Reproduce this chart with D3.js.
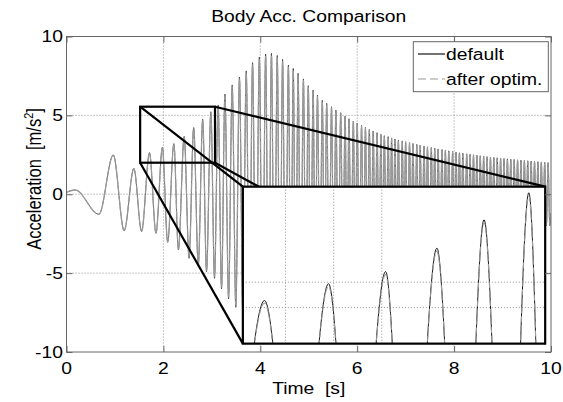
<!DOCTYPE html>
<html>
<head>
<meta charset="utf-8">
<script src="https://cdn.jsdelivr.net/npm/d3@7"></script>
<style>
  body { margin: 0; background: #fff; }
  svg { display: block; font-family: "Liberation Sans", Arial, Helvetica, sans-serif; }
</style>
</head>
<body>
<svg id="chart" width="563" height="402"></svg>
<script>
// ---- data (time in s, acceleration in m/s^2) ----
const startPoint = [0, 0.12];
const endPoint = [10, -1.2];

// local maxima of the signal
const peakT = [
  0.18, 0.966, 1.39, 1.713, 1.979, 2.216, 2.429, 2.625, 2.811, 2.98,
  3.13, 3.27, 3.42, 3.57, 3.71, 3.84, 3.98, 4.11, 4.23, 4.35,
  4.46, 4.58, 4.68, 4.78, 4.89, 4.99, 5.09, 5.18, 5.28, 5.37,
  5.47, 5.56, 5.66, 5.75, 5.83, 5.92, 6.00, 6.09, 6.17, 6.25,
  6.33, 6.41, 6.49, 6.56, 6.64, 6.71, 6.78, 6.85, 6.93, 7.00,
  7.08, 7.15, 7.23, 7.30, 7.38, 7.45, 7.53, 7.60, 7.67, 7.75,
  7.82, 7.89, 7.97, 8.04, 8.11, 8.18, 8.26, 8.33, 8.40, 8.47,
  8.54, 8.61, 8.68, 8.75, 8.82, 8.89, 8.96, 9.03, 9.10, 9.17,
  9.24, 9.31, 9.38, 9.45, 9.52, 9.59, 9.66, 9.73, 9.80, 9.87, 9.94
];
const peakY = [
  0.27, 2.49, 1.64, 2.64, 2.97, 3.21, 3.67, 4.23, 4.76, 5.23,
  5.66, 6.35, 6.93, 7.43, 7.82, 8.34, 8.70, 8.89, 8.93, 8.80,
  8.55, 8.19, 7.98, 7.67, 7.31, 6.88, 6.61, 6.29, 5.97, 5.77,
  5.55, 5.34, 5.17, 4.96, 4.79, 4.64, 4.50, 4.37, 4.24, 4.11,
  4.01, 3.90, 3.80, 3.71, 3.65, 3.57, 3.50, 3.44, 3.38, 3.33,
  3.27, 3.22, 3.16, 3.11, 3.06, 3.01, 2.96, 2.92, 2.87, 2.83,
  2.79, 2.75, 2.71, 2.67, 2.63, 2.60, 2.56, 2.53, 2.50, 2.47,
  2.44, 2.41, 2.38, 2.36, 2.33, 2.31, 2.28, 2.26, 2.24, 2.22,
  2.20, 2.18, 2.16, 2.14, 2.12, 2.10, 2.08, 2.06, 2.04, 2.02, 2.00
];
const optPeakY = [
  0.27, 2.48, 1.62, 2.59, 2.92, 3.15, 3.61, 4.17, 4.69, 5.15,
  5.57, 6.25, 6.82, 7.31, 7.70, 8.21, 8.57, 8.76, 8.80, 8.68,
  8.43, 8.08, 7.87, 7.57, 7.22, 6.80, 6.53, 6.22, 5.91, 5.71,
  5.49, 5.29, 5.12, 4.92, 4.75, 4.60, 4.46, 4.33, 4.21, 4.08,
  3.98, 3.87, 3.77, 3.68, 3.62, 3.54, 3.47, 3.41, 3.35, 3.30,
  3.24, 3.19, 3.13, 3.08, 3.03, 2.98, 2.94, 2.89, 2.85, 2.81,
  2.77, 2.73, 2.69, 2.65, 2.61, 2.58, 2.54, 2.51, 2.48, 2.45,
  2.42, 2.39, 2.36, 2.34, 2.31, 2.29, 2.26, 2.24, 2.22, 2.20,
  2.18, 2.16, 2.14, 2.12, 2.10, 2.08, 2.06, 2.04, 2.02, 2.00, 1.98
];

// local minima of the signal
const troughT = [
  0.67, 1.19, 1.55, 1.847, 2.088, 2.31, 2.53, 2.72, 2.89, 3.055,
  3.20, 3.345, 3.495, 3.64, 3.775, 3.91, 4.045, 4.17, 4.29, 4.405,
  4.52, 4.63, 4.73, 4.835, 4.94, 5.04, 5.135, 5.23, 5.325, 5.42,
  5.515, 5.61, 5.705, 5.79, 5.875, 5.96, 6.045, 6.13, 6.21, 6.29,
  6.37, 6.45, 6.525, 6.60, 6.675, 6.745, 6.815, 6.89, 6.965, 7.04,
  7.115, 7.19, 7.265, 7.34, 7.415, 7.49, 7.565, 7.635, 7.71, 7.785,
  7.855, 7.93, 8.005, 8.075, 8.145, 8.22, 8.295, 8.365, 8.435, 8.505,
  8.575, 8.645, 8.715, 8.785, 8.855, 8.925, 8.995, 9.065, 9.135, 9.205,
  9.275, 9.345, 9.415, 9.485, 9.555, 9.625, 9.695, 9.765, 9.835, 9.905, 9.975
];
const troughY = [
  -1.27, -2.31, -2.37, -2.48, -3.05, -3.53, -4.06, -4.55, -4.91, -5.33,
  -6.00, -6.64, -7.17, -7.62, -8.08, -8.52, -8.80, -8.91, -8.87, -8.68,
  -8.37, -8.08, -7.82, -7.49, -7.10, -6.74, -6.45, -6.13, -5.87, -5.66,
  -5.44, -5.25, -5.06, -4.87, -4.71, -4.57, -4.43, -4.30, -4.17, -4.06,
  -3.95, -3.85, -3.75, -3.68, -3.61, -3.53, -3.47, -3.41, -3.35, -3.30,
  -3.24, -3.19, -3.13, -3.08, -3.03, -2.98, -2.94, -2.89, -2.85, -2.81,
  -2.77, -2.73, -2.69, -2.65, -2.61, -2.58, -2.54, -2.51, -2.48, -2.45,
  -2.42, -2.39, -2.37, -2.34, -2.32, -2.29, -2.27, -2.25, -2.23, -2.21,
  -2.19, -2.17, -2.15, -2.13, -2.11, -2.09, -2.07, -2.05, -2.03, -2.01, -1.99
];
const optTroughY = [
  -1.27, -2.30, -2.35, -2.44, -3.00, -3.47, -3.99, -4.47, -4.82, -5.23,
  -5.89, -6.52, -7.04, -7.48, -7.93, -8.37, -8.64, -8.75, -8.71, -8.52,
  -8.22, -7.94, -7.68, -7.36, -6.97, -6.62, -6.34, -6.02, -5.77, -5.56,
  -5.35, -5.16, -4.97, -4.79, -4.63, -4.49, -4.36, -4.23, -4.10, -3.99,
  -3.89, -3.79, -3.69, -3.62, -3.55, -3.47, -3.41, -3.35, -3.29, -3.24,
  -3.18, -3.13, -3.08, -3.03, -2.98, -2.93, -2.89, -2.84, -2.80, -2.76,
  -2.72, -2.68, -2.64, -2.60, -2.57, -2.54, -2.50, -2.47, -2.44, -2.41,
  -2.38, -2.35, -2.33, -2.30, -2.28, -2.25, -2.23, -2.21, -2.19, -2.17,
  -2.15, -2.13, -2.11, -2.09, -2.07, -2.05, -2.03, -2.01, -1.99, -1.97, -1.95
];

const xTicks = [0, 2, 4, 6, 8, 10];
const yTicks = [-10, -5, 0, 5, 10];
const xGrid = [2, 4, 6, 8];
const yGrid = [-5, 0, 5];

// magnifier: source window (main data coords) and where the inset sits
const zoomSrcX = [1.52, 3.065];
const zoomSrcY = [2.0, 5.55];
const insetAtX = [3.64, 9.88];
const insetAtY = [-9.47, 0.48];
const insetDomX = [1.623, 2.879];
const insetDomY = [1.79, 4.88];
const insetGridX = [1.8, 2.0, 2.2];
const insetGridY = [2.5, 3.0];

const seriesNames = ['default', 'after optim.'];

// ---- layout ----
const W = 563, H = 402;
const M = { top: 36.5, right: 12, bottom: 50, left: 66.5 };
const SX = 1.17;                // reference text is stretched horizontally
const FONT = 16.5;

const svg = d3.select('#chart');

const x = d3.scaleLinear().domain([0, 10]).range([M.left, W - M.right]);
const y = d3.scaleLinear().domain([-10, 10]).range([H - M.bottom, M.top]);

function buildPoints(pY, tY) {
  const pts = [startPoint];
  peakT.forEach((t, i) => {
    pts.push([t, pY[i]]);
    pts.push([troughT[i], tY[i]]);
  });
  pts.push(endPoint);
  return pts;
}
const defPts = buildPoints(peakY, troughY);
const optPts = buildPoints(optPeakY, optTroughY);

function label(g, tx, ty, str, anchor, size) {
  return g.append('text')
    .attr('transform', `translate(${tx},${ty}) scale(${SX},1)`)
    .attr('text-anchor', anchor || 'middle')
    .attr('font-size', size || FONT)
    .attr('fill', '#000')
    .text(str);
}

const defs = svg.append('defs');
defs.append('clipPath').attr('id', 'clipMain').append('rect')
  .attr('x', x(0)).attr('y', y(10))
  .attr('width', x(10) - x(0)).attr('height', y(-10) - y(10));

// Grid
const grid = svg.append('g')
  .attr('stroke', '#777').attr('stroke-width', 0.8).attr('stroke-dasharray', '1,2');
grid.selectAll('.gx').data(xGrid).join('line')
  .attr('x1', d => x(d)).attr('x2', d => x(d))
  .attr('y1', y(10)).attr('y2', y(-10));
grid.selectAll('.gy').data(yGrid).join('line')
  .attr('x1', x(0)).attr('x2', x(10))
  .attr('y1', d => y(d)).attr('y2', d => y(d));

// Curves
function drawCurves(g, sx, sy, wDef, wOpt, dash) {
  const line = d3.line().x(d => sx(d[0])).y(d => sy(d[1])).curve(d3.curveMonotoneX);
  g.append('path').attr('d', line(defPts))
    .attr('fill', 'none').attr('stroke', '#000').attr('stroke-width', wDef);
  g.append('path').attr('d', line(optPts))
    .attr('fill', 'none').attr('stroke', '#9a9a9a').attr('stroke-width', wOpt)
    .attr('stroke-dasharray', dash);
}
drawCurves(svg.append('g').attr('clip-path', 'url(#clipMain)'), x, y, 0.6, 1.3, '9,1.5');

// Magnifier frame + connectors
const mag = svg.append('g').attr('fill', 'none').attr('stroke', '#000').attr('stroke-width', 2.2);
mag.append('rect')
  .attr('x', x(zoomSrcX[0])).attr('y', y(zoomSrcY[1]))
  .attr('width', x(zoomSrcX[1]) - x(zoomSrcX[0]))
  .attr('height', y(zoomSrcY[0]) - y(zoomSrcY[1]));
const corners = [[0, 1], [1, 1], [0, 0], [1, 0]];
mag.selectAll('line.conn').data(corners).join('line')
  .attr('x1', d => x(zoomSrcX[d[0]])).attr('y1', d => y(zoomSrcY[d[1]]))
  .attr('x2', d => x(insetAtX[d[0]])).attr('y2', d => y(insetAtY[d[1]]));

// Inset
const ix = d3.scaleLinear().domain(insetDomX).range([x(insetAtX[0]), x(insetAtX[1])]);
const iy = d3.scaleLinear().domain(insetDomY).range([y(insetAtY[0]), y(insetAtY[1])]);
defs.append('clipPath').attr('id', 'clipInset').append('rect')
  .attr('x', ix.range()[0]).attr('y', iy.range()[1])
  .attr('width', ix.range()[1] - ix.range()[0]).attr('height', iy.range()[0] - iy.range()[1]);

const inset = svg.append('g');
inset.append('rect')
  .attr('x', ix.range()[0]).attr('y', iy.range()[1])
  .attr('width', ix.range()[1] - ix.range()[0]).attr('height', iy.range()[0] - iy.range()[1])
  .attr('fill', '#fff');
const igrid = inset.append('g')
  .attr('stroke', '#777').attr('stroke-width', 0.8).attr('stroke-dasharray', '1,2');
igrid.selectAll('.ix').data(insetGridX).join('line')
  .attr('x1', d => ix(d)).attr('x2', d => ix(d))
  .attr('y1', iy.range()[1]).attr('y2', iy.range()[0]);
igrid.selectAll('.iy').data(insetGridY).join('line')
  .attr('x1', ix.range()[0]).attr('x2', ix.range()[1])
  .attr('y1', d => iy(d)).attr('y2', d => iy(d));
drawCurves(inset.append('g').attr('clip-path', 'url(#clipInset)'), ix, iy, 0.9, 1.1, '6,3');
inset.append('rect')
  .attr('x', ix.range()[0]).attr('y', iy.range()[1])
  .attr('width', ix.range()[1] - ix.range()[0]).attr('height', iy.range()[0] - iy.range()[1])
  .attr('fill', 'none').attr('stroke', '#000').attr('stroke-width', 2.2);

// Axes box + inward ticks
const axisColor = '#666';
function styleAxis(g) {
  g.select('.domain').remove();
  g.selectAll('.tick line').attr('stroke', axisColor);
  g.selectAll('.tick text').remove();
}
svg.append('g').attr('transform', `translate(0,${y(-10)})`)
  .call(d3.axisBottom(x).tickValues(xTicks).tickSizeInner(-6).tickSizeOuter(0)).call(styleAxis);
svg.append('g').attr('transform', `translate(0,${y(10)})`)
  .call(d3.axisTop(x).tickValues(xTicks).tickSizeInner(-6).tickSizeOuter(0)).call(styleAxis);
svg.append('g').attr('transform', `translate(${x(0)},0)`)
  .call(d3.axisLeft(y).tickValues(yTicks).tickSizeInner(-6).tickSizeOuter(0)).call(styleAxis);
svg.append('g').attr('transform', `translate(${x(10)},0)`)
  .call(d3.axisRight(y).tickValues(yTicks).tickSizeInner(-6).tickSizeOuter(0)).call(styleAxis);
svg.append('rect')
  .attr('x', x(0)).attr('y', y(10))
  .attr('width', x(10) - x(0)).attr('height', y(-10) - y(10))
  .attr('fill', 'none').attr('stroke', axisColor).attr('stroke-width', 1);

// Tick labels (plain hyphen minus, as in the reference)
const tl = svg.append('g');
xTicks.forEach(v => label(tl, x(v), y(-10) + 21.5, String(v), 'middle'));
yTicks.forEach(v => label(tl, x(0) - 3.5, y(v) + 5.8, String(v), 'end'));

// Legend
const legend = svg.append('g');
legend.append('rect')
  .attr('x', 413.3).attr('y', 41.7).attr('width', 135).attr('height', 50)
  .attr('fill', '#fff').attr('stroke', axisColor).attr('stroke-width', 1);
const legRows = [
  { name: seriesNames[0], stroke: '#000', dash: null, ly: 54, ty: 59.5 },
  { name: seriesNames[1], stroke: '#9a9a9a', dash: '8,4', ly: 79, ty: 84.5 }
];
legRows.forEach(r => {
  legend.append('line')
    .attr('x1', 418).attr('x2', 445).attr('y1', r.ly).attr('y2', r.ly)
    .attr('stroke', r.stroke).attr('stroke-width', 1.1)
    .attr('stroke-dasharray', r.dash);
  label(legend, 446, r.ty, r.name, 'start');
});

// Title and axis labels
label(svg, (x(0) + x(10)) / 2, 21.5, 'Body Acc. Comparison', 'middle');
label(svg, (x(0) + x(10)) / 2, 394, 'Time\u00a0 [s]', 'middle');

const yl = svg.append('text')
  .attr('transform', `translate(41,179) scale(${SX},1) rotate(-90)`)
  .attr('text-anchor', 'middle')
  .attr('font-size', FONT)
  .attr('fill', '#000');
yl.append('tspan').text('Acceleration\u00a0 [m/s');
yl.append('tspan').attr('font-size', 11).attr('dy', -6.5).text('2');
yl.append('tspan').attr('dy', 6.5).text(']');
</script>
</body>
</html>
